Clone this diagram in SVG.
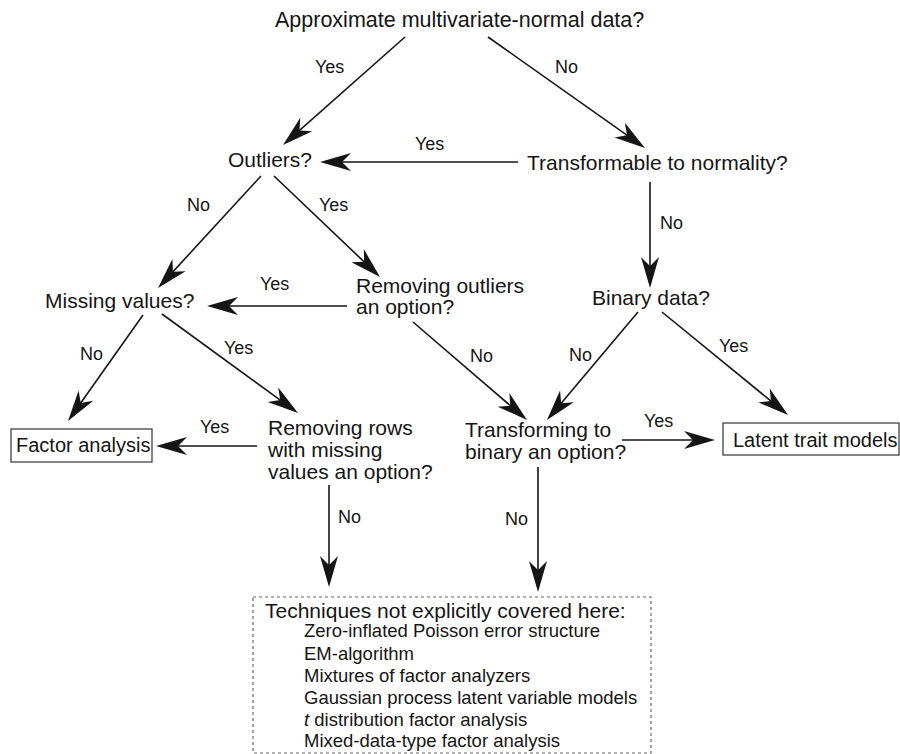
<svg xmlns="http://www.w3.org/2000/svg" width="900" height="754" viewBox="0 0 900 754">
<style>
text{font-family:"Liberation Sans",Arial,Helvetica,sans-serif;fill:#151515}
.n{font-size:21px}
.t{font-size:21.5px}
.b{font-size:20px}
.l{font-size:18px}
.i{font-size:18.5px}
.c line{stroke:#151515;stroke-width:1.6;marker-end:url(#ah)}
.box{fill:none;stroke:#333;stroke-width:1.2}
.dbox{fill:none;stroke:#666;stroke-width:1.2;stroke-dasharray:3 3}
</style>
<defs>
<marker id="ah" viewBox="-22 -10 33 20" refX="0" refY="0" markerWidth="33" markerHeight="20" markerUnits="userSpaceOnUse" orient="auto">
<path d="M10,0 L-21,-9 L-12,0 L-21,9 Z" fill="#151515"/>
</marker>
</defs>
<rect width="900" height="754" fill="#fff"/>
<g id="n-root"><text class="t" x="275" y="27">Approximate multivariate-normal data?</text></g>
<g id="n-outliers"><text class="n" x="228" y="167">Outliers?</text></g>
<g id="n-transformable"><text class="n" x="527" y="170">Transformable to normality?</text></g>
<g id="n-binary"><text class="n" x="592" y="305">Binary data?</text></g>
<g id="n-missing"><text class="n" x="45" y="308">Missing values?</text></g>
<g id="n-removeout"><text class="n" x="356" y="293">Removing outliers</text><text class="n" x="356" y="314">an option?</text></g>
<g id="n-removerows"><text class="n" x="268" y="435">Removing rows</text><text class="n" x="268" y="457">with missing</text><text class="n" x="268" y="479">values an option?</text></g>
<g id="n-transforming"><text class="n" x="465" y="437">Transforming to</text><text class="n" x="465" y="459">binary an option?</text></g>
<g id="n-factor"><rect class="box" x="11" y="429" width="141" height="33"/><text class="b" x="16" y="452">Factor analysis</text></g>
<g id="n-latent"><rect class="box" x="723" y="423" width="176" height="32"/><text class="b" x="733" y="447">Latent trait models</text></g>
<g id="n-techniques"><rect class="dbox" x="253" y="597" width="398" height="156"/>
<text class="n" x="265" y="618">Techniques not explicitly covered here:</text>
<text class="i" x="304" y="637">Zero-inflated Poisson error structure</text>
<text class="i" x="304" y="660">EM-algorithm</text>
<text class="i" x="304" y="682">Mixtures of factor analyzers</text>
<text class="i" x="304" y="704">Gaussian process latent variable models</text>
<text class="i" x="304" y="726"><tspan font-style="italic">t</tspan> distribution factor analysis</text>
<text class="i" x="304" y="747">Mixed-data-type factor analysis</text>
</g>
<g id="connectors" class="c">
<line x1="405" y1="37" x2="290.5" y2="138.4"/>
<line x1="488" y1="37" x2="636.8" y2="142.2"/>
<line x1="518" y1="162" x2="330" y2="162"/>
<line x1="650" y1="182" x2="650" y2="278"/>
<line x1="261" y1="176" x2="164.8" y2="280.6"/>
<line x1="274" y1="176" x2="372.8" y2="270.1"/>
<line x1="347" y1="306" x2="217" y2="306"/>
<line x1="143" y1="315" x2="73.8" y2="412.8"/>
<line x1="162" y1="314" x2="289.9" y2="407.1"/>
<line x1="257" y1="446" x2="166" y2="446"/>
<line x1="329" y1="485" x2="329" y2="577"/>
<line x1="413" y1="322" x2="519.4" y2="413.5"/>
<line x1="638" y1="312" x2="553.4" y2="412.4"/>
<line x1="662" y1="312" x2="780.3" y2="408.7"/>
<line x1="622" y1="440" x2="705" y2="440"/>
<line x1="538" y1="467" x2="538" y2="582"/>
</g>
<g id="labels">
<text class="l" x="315" y="73">Yes</text>
<text class="l" x="555" y="73">No</text>
<text class="l" x="415" y="150">Yes</text>
<text class="l" x="660" y="229">No</text>
<text class="l" x="187" y="211">No</text>
<text class="l" x="319" y="211">Yes</text>
<text class="l" x="260" y="290">Yes</text>
<text class="l" x="80" y="360">No</text>
<text class="l" x="224" y="354">Yes</text>
<text class="l" x="200" y="433">Yes</text>
<text class="l" x="338" y="523">No</text>
<text class="l" x="470" y="362">No</text>
<text class="l" x="569" y="361">No</text>
<text class="l" x="719" y="352">Yes</text>
<text class="l" x="644" y="427">Yes</text>
<text class="l" x="505" y="525">No</text>
</g>
</svg>
